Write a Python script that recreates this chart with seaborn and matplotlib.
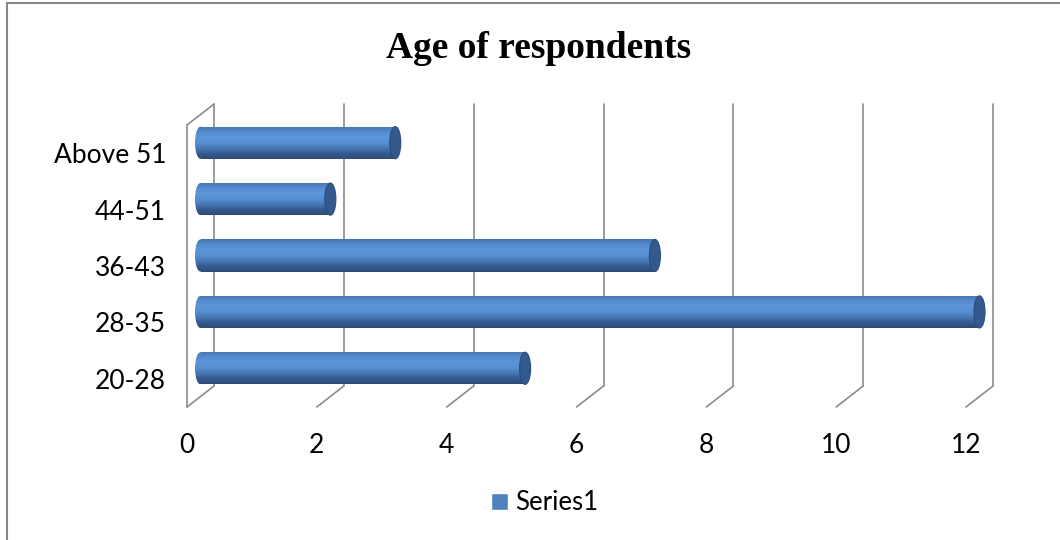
import numpy as np
import seaborn as sns
import matplotlib.pyplot as plt
import matplotlib.transforms as mtransforms
from matplotlib.patches import Ellipse, Patch
from matplotlib.lines import Line2D
from matplotlib.colors import LinearSegmentedColormap

sns.set_style("white")

categories = ["20-28", "28-35", "36-43", "44-51", "Above 51"]
values = [5, 12, 7, 2, 3]
x_ticks = [0, 2, 4, 6, 8, 10, 12]
series_name = "Series1"
title = "Age of respondents"

grid_color = "#8c8c8c"
bar_h = 0.57
cap_w = 0.17

fig = plt.figure(figsize=(10.6, 5.4), dpi=100)
ax = fig.add_axes([187 / 1060, 1 - 407 / 540, 779 / 1060, 282 / 540])

# depth offsets (pixels -> inches)
back = ax.transData + mtransforms.ScaledTranslation(27 / 100, 21 / 100, fig.dpi_scale_trans)
mid = ax.transData + mtransforms.ScaledTranslation(13.5 / 100, 10.5 / 100, fig.dpi_scale_trans)

order = categories[::-1]
sns.barplot(x=values, y=categories, order=order, orient="h", width=bar_h,
            color="#4F81BD", ax=ax, zorder=3)

# back wall / gridlines
for xv in x_ticks:
    ax.plot([xv, xv], [4.5, -0.5], color=grid_color, lw=1.2, transform=back,
            clip_on=False, zorder=1)
    ax.annotate("", xy=(xv, 4.5), xycoords="data",
                xytext=(27 * 0.72, 21 * 0.72), textcoords="offset points",
                arrowprops=dict(arrowstyle="-", color=grid_color, lw=1.2,
                                shrinkA=0, shrinkB=0), zorder=1)
# left wall
ax.plot([0, 0], [4.5, -0.5], color=grid_color, lw=1.2, clip_on=False, zorder=1)
ax.annotate("", xy=(0, -0.5), xycoords="data",
            xytext=(27 * 0.72, 21 * 0.72), textcoords="offset points",
            arrowprops=dict(arrowstyle="-", color=grid_color, lw=1.2,
                            shrinkA=0, shrinkB=0), zorder=1)

# cylinder shading
cmap = LinearSegmentedColormap.from_list(
    "cyl", ["#4674ad", "#548bce", "#5c96da", "#5790d2", "#4979b6", "#365b8e", "#2c4b78"])
grad = np.linspace(0, 1, 64).reshape(-1, 1)

for patch in ax.patches:
    patch.set_transform(mid)
    patch.set_facecolor("none")
    patch.set_edgecolor("none")
    x0, w = patch.get_x(), patch.get_width()
    y0, h = patch.get_y(), patch.get_height()
    im = ax.imshow(grad, cmap=cmap, aspect="auto", extent=(x0, x0 + w, y0 + h, y0),
                   transform=mid, zorder=3, interpolation="bilinear")
    im.set_clip_path(patch)
    left = Ellipse((x0, y0 + h / 2), cap_w, h, transform=mid, facecolor="none",
                   edgecolor="none")
    ax.add_patch(left)
    im2 = ax.imshow(grad, cmap=cmap, aspect="auto",
                    extent=(x0 - cap_w / 2, x0, y0 + h, y0),
                    transform=mid, zorder=3, interpolation="bilinear")
    im2.set_clip_path(left)
    cap = Ellipse((x0 + w, y0 + h / 2), cap_w, h, transform=mid,
                  facecolor="#34598d", edgecolor="#2c4c7a", lw=0.8,
                  clip_on=False, zorder=4)
    ax.add_patch(cap)

ax.set_xlim(0, 12)
ax.set_ylim(4.5, -0.5)
ax.set_xticks(x_ticks)
ax.set_xticklabels([str(t) for t in x_ticks])
ax.set_xlabel("")
ax.set_ylabel("")
ax.tick_params(axis="x", length=0, pad=19, labelsize=19, labelcolor="black")
ax.tick_params(axis="y", length=0, pad=15, labelsize=19, labelcolor="black")
for lab in ax.get_xticklabels() + ax.get_yticklabels():
    lab.set_fontfamily("Lato")
for s in ax.spines.values():
    s.set_visible(False)
ax.grid(False)
ax.patch.set_alpha(0)

fig.text(0.508, 1 - 48 / 540, title, ha="center", va="center", color="black",
         fontsize=27, fontweight="bold", family="Liberation Serif")

leg = fig.legend(handles=[Patch(facecolor="#4F81BD", label=series_name)],
                 loc="center", bbox_to_anchor=(0.514, 1 - 503 / 540), frameon=False,
                 handlelength=0.65, handleheight=0.65, handletextpad=0.3,
                 prop={"family": "Lato", "size": 18.5})
for t in leg.get_texts():
    t.set_color("black")

# chart border
fig.add_artist(Line2D([7 / 1060, 7 / 1060], [0, 1 - 3 / 540], color="#888888", lw=1.5,
                      transform=fig.transFigure))
fig.add_artist(Line2D([7 / 1060, 1], [1 - 3 / 540, 1 - 3 / 540], color="#888888", lw=1.5,
                      transform=fig.transFigure))

fig.savefig("out.png", dpi=100)
